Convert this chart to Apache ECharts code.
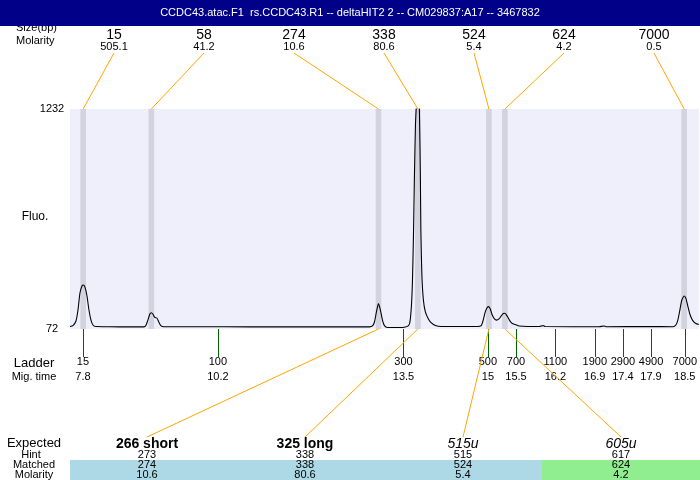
<!DOCTYPE html>
<html><head><meta charset="utf-8">
<script src="https://cdn.jsdelivr.net/npm/echarts@6/dist/echarts.min.js"></script>
<style>html,body{margin:0;padding:0;background:#fff}#c{width:700px;height:480px}</style>
</head><body><div id="c"></div>
<script>
// ---------- data ----------
const titleText = 'CCDC43.atac.F1  rs.CCDC43.R1 -- deltaHIT2 2 -- CM029837:A17 -- 3467832';
const peakSizes = [15, 58, 274, 338, 524, 624, 7000];
const peakMolarity = [505.1, 41.2, 10.6, 80.6, 5.4, 4.2, 0.5];
const peakTimes = [7.804, 9.016, 13.054, 13.755, 15.018, 15.302, 18.489];
const ladderSizes = [15, 100, 300, 500, 700, 1100, 1900, 2900, 4900, 7000];
const ladderTimes = [7.8, 10.2, 13.5, 15, 15.5, 16.2, 16.9, 17.4, 17.9, 18.5];
const yTicks = [72, 1232];
const expectedLabels = ['266 short', '325 long', '515u', '605u'];
const expectedNamed = [true, true, false, false];
const hintSizes = [273, 338, 515, 617];
const matchedSizes = [274, 338, 524, 624];
const matchedMolarity = [10.6, 80.6, 5.4, 4.2];
const matchedGroup = [0, 0, 0, 1];
const traceTime = [7.570,7.623,7.676,7.712,7.747,7.783,7.806,7.836,7.872,7.907,7.943,7.978,8.031,8.280,8.635,8.883,8.919,8.954,8.990,9.016,9.043,9.078,9.114,9.149,9.185,9.238,9.877,10.764,11.652,12.539,12.894,12.947,12.983,13.018,13.054,13.089,13.125,13.160,13.214,13.427,13.534,13.588,13.614,13.641,13.659,13.676,13.694,13.712,13.729,13.756,13.782,13.800,13.808,13.826,13.853,13.888,13.942,13.995,14.066,14.172,14.491,14.811,14.882,14.917,14.953,14.988,15.015,15.042,15.077,15.113,15.153,15.202,15.237,15.273,15.303,15.326,15.362,15.397,15.433,15.486,15.557,15.912,15.983,16.019,16.977,17.065,17.100,17.863,18.289,18.342,18.377,18.413,18.448,18.489,18.519,18.554,18.590,18.626,18.661,18.697,18.750];
const traceFluo = [85,90,114,172,262,299,304,293,246,172,119,93,85,84,83,83,90,119,151,158,151,133,130,109,90,84,84,83,83,83,83,88,109,162,206,172,119,90,80,80,83,90,109,199,330,557,884,1148,1253,1385,1227,858,594,357,225,162,125,104,90,85,85,85,90,119,162,185,190,177,146,127,119,127,141,154,155,148,130,112,101,96,88,85,90,85,84,88,84,85,84,93,119,172,225,246,235,193,151,125,109,101,96];

// ---------- chart ----------
const FONT = 'Liberation Sans, Arial, sans-serif';
const chart = echarts.init(document.getElementById('c'), null, {renderer: 'canvas'});
const option = {
  animation: false,
  textStyle: {fontFamily: FONT},
  grid: {left: 70, right: 0, top: 109, bottom: 151, show: true, backgroundColor: '#efeffb', borderWidth: 0},
  xAxis: {
    type: 'value', min: 7.57, max: 18.75,
    axisLine: {show: false}, splitLine: {show: false},
    axisTick: {show: true, customValues: ladderTimes, length: 28, lineStyle: {color: '#006400', width: 1}},
    axisLabel: {
      customValues: ladderTimes, margin: 25, fontSize: 11, lineHeight: 15, color: '#000', fontFamily: FONT,
      formatter: function (v) {
        const i = ladderTimes.findIndex(t => Math.abs(t - v) < 1e-6);
        return i < 0 ? '' : ladderSizes[i] + '\n' + ladderTimes[i];
      }
    }
  },
  yAxis: {
    type: 'value', min: 72, max: 1232,
    axisLine: {show: false}, axisTick: {show: false}, splitLine: {show: false},
    axisLabel: {customValues: yTicks, align: 'center', margin: 18, fontSize: 11, color: '#000', fontFamily: FONT,
      formatter: v => String(v)}
  },
  series: [{
    type: 'line', showSymbol: false, smooth: 0.2, clip: true,
    data: traceTime.map((t, i) => [t, traceFluo[i]]),
    lineStyle: {color: '#000', width: 1.1},
    markArea: {silent: true, itemStyle: {color: '#d3d3df'},
      data: peakTimes.map(t => [{xAxis: t - 0.05}, {xAxis: t + 0.05}])}
  }]
};
chart.setOption(option);

// ---------- annotations ----------
const px = t => chart.convertToPixel({xAxisIndex: 0}, t);
const yTop = chart.convertToPixel({yAxisIndex: 0}, 1232);
const yBot = chart.convertToPixel({yAxisIndex: 0}, 72);
const g = [];
const txt = (x, y, text, size, extra) => g.push({type: 'text', x: x, y: y, z: 50,
  style: Object.assign({text: text, fill: '#000', fontSize: size, fontFamily: FONT, align: 'center', verticalAlign: 'middle'}, extra || {})});
const line = (x1, y1, x2, y2, color) => g.push({type: 'line', z: 40, silent: true,
  shape: {x1: x1, y1: y1, x2: x2, y2: y2}, style: {stroke: color || '#ffa500', lineWidth: 1}});

// title bar
g.push({type: 'rect', z: 100, shape: {x: 0, y: 0, width: 700, height: 26}, style: {fill: '#000088'}});
g.push({type: 'text', z: 101, x: 350, y: 13, style: {text: titleText, fill: '#fff', fontSize: 11, fontFamily: FONT, align: 'center', verticalAlign: 'middle'}});

// top header
txt(16, 28, 'Size(bp)', 11, {align: 'left'});
txt(16, 41, 'Molarity', 11, {align: 'left'});
peakSizes.forEach((s, i) => {
  const x = 114 + 90 * i;
  txt(x, 35, String(s), 14);
  txt(x, 47, peakMolarity[i].toFixed(1), 11);
  line(x, 53, px(peakTimes[i]), yTop);
});

// left labels
txt(35, 217, 'Fluo.', 12);
txt(34, 363, 'Ladder', 13);
txt(34, 377, 'Mig. time', 11);
txt(34, 443, 'Expected', 13);
txt(31, 455, 'Hint', 11);
txt(34, 465, 'Matched', 11);
txt(34, 475, 'Molarity', 11);

// expected table
const groupColors = ['#add8e6', '#90ee90'];
expectedLabels.forEach((lab, i) => {
  const left = 68 + 158 * i, cx = left + 79;
  g.push({type: 'rect', z: 30, shape: {x: i === 0 ? 70 : left, y: 460, width: i === 0 ? 156 : 158, height: 20},
    style: {fill: groupColors[matchedGroup[i]]}});
  txt(cx, 444, lab, 14, expectedNamed[i] ? {fontWeight: 'bold'} : {fontStyle: 'italic'});
  txt(cx, 455, String(hintSizes[i]), 11);
  txt(cx, 465, String(matchedSizes[i]), 11);
  txt(cx, 475, matchedMolarity[i].toFixed(1), 11);
  const k = peakSizes.indexOf(matchedSizes[i]);
  line(cx, 437, px(peakTimes[k]), yBot);
});

chart.setOption({graphic: g});
</script>
</body></html>
